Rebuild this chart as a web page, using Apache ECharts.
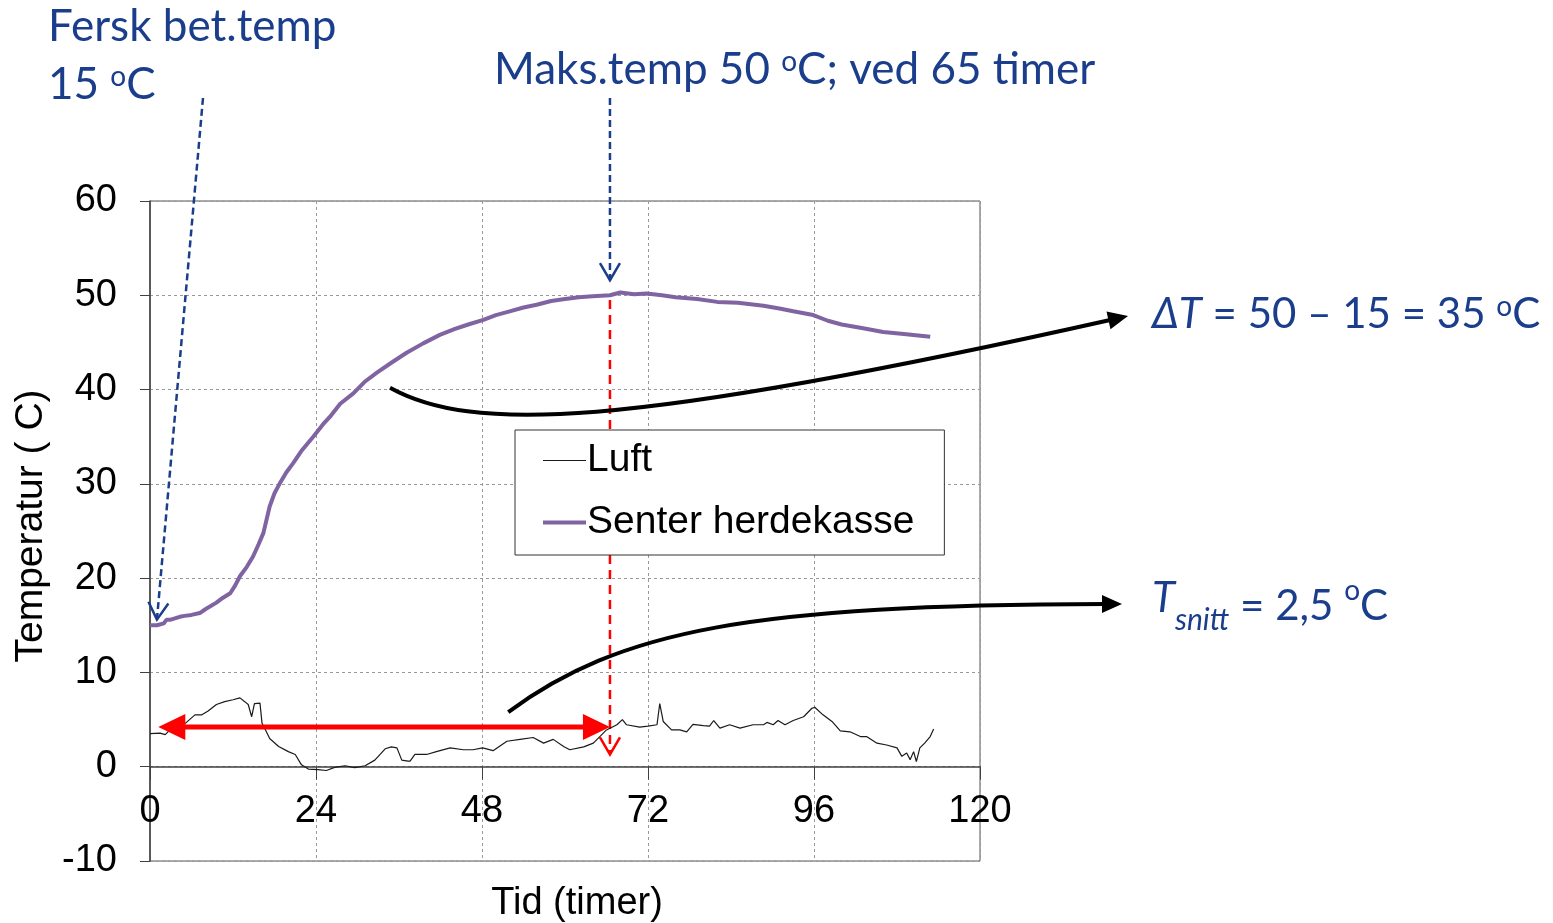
<!DOCTYPE html>
<html><head><meta charset="utf-8">
<script src="https://cdn.jsdelivr.net/npm/echarts@6/dist/echarts.min.js"></script>
<style>html,body{margin:0;padding:0;background:#fff}#chart{width:1553px;height:923px}</style>
</head><body><div id="chart"></div>
<script>
// ---- data ----
const seriesNames = ['Luft', 'Senter herdekasse'];
const xTickValues = [0, 24, 48, 72, 96, 120];
const yTickValues = [-10, 0, 10, 20, 30, 40, 50, 60];

const luftTime = [0, 0.24, 1.45, 2.2, 2.9, 3.9, 5.1, 6.5, 7.5, 8.4, 9.6, 10.8, 12.0, 13.0, 13.7, 14.2, 14.7, 15.1, 15.9, 16.2, 16.9, 17.3, 18.6, 20.0, 21.0, 21.9, 22.9, 24.3, 25.5, 26.7, 28.2, 29.6, 31.1, 32.5, 34.0, 34.9, 35.7, 36.4, 37.3, 37.6, 38.3, 40.0, 41.4, 43.4, 45.3, 46.7, 48.1, 49.6, 51.6, 53.5, 55.4, 56.9, 58.3, 59.8, 60.7, 62.7, 64.1, 66.0, 67.5, 68.3, 68.9, 70.8, 72.0, 73.3, 73.7, 74.2, 75.4, 76.6, 77.6, 78.5, 80.0, 80.9, 81.5, 82.4, 83.8, 85.3, 87.2, 88.7, 89.2, 90.1, 90.8, 91.8, 93.0, 94.5, 95.7, 96.1, 97.3, 98.6, 99.8, 101.2, 102.7, 103.6, 105.1, 106.5, 108.0, 108.7, 109.4, 109.9, 110.4, 110.8, 111.3, 112.0, 112.8, 113.3];
const luftTemp = [3.5, 3.57, 3.57, 3.4, 3.9, 4.0, 4.6, 5.5, 5.5, 5.9, 6.6, 6.9, 7.1, 7.3, 6.9, 6.6, 5.3, 6.7, 6.75, 4.6, 3.6, 3.0, 2.15, 1.6, 1.3, 0.2, -0.25, -0.3, -0.4, -0.07, 0.1, -0.1, 0.1, 0.7, 1.9, 2.1, 2.0, 0.7, 0.6, 0.6, 1.3, 1.3, 1.6, 2.0, 1.8, 1.8, 2.0, 1.7, 2.7, 2.9, 3.1, 2.5, 2.9, 2.15, 1.8, 2.1, 2.5, 3.9, 4.45, 5.0, 4.45, 4.2, 4.3, 4.45, 6.7, 4.8, 3.9, 3.9, 3.7, 4.5, 4.35, 4.3, 4.9, 4.1, 4.45, 4.1, 4.45, 4.45, 4.7, 4.45, 4.9, 4.45, 4.9, 5.3, 6.2, 6.3, 5.5, 4.8, 3.8, 3.7, 3.2, 3.2, 2.5, 2.3, 2.0, 1.1, 1.45, 0.75, 1.6, 0.55, 2.0, 2.5, 3.2, 4.0];

const senterTime = [0, 1, 2, 2.4, 3, 4.3, 5, 6, 7.2, 8, 9.6, 10.5, 11.6, 12.3, 13, 14, 14.9, 15.7, 16.4, 17.3, 18, 18.8, 19.7, 20.7, 22, 23.6, 25, 26, 27.5, 29.4, 31, 32.8, 35, 37.1, 39.5, 41.9, 44, 46, 48.2, 50, 52, 54, 55.9, 58, 60, 62, 64, 66.5, 68, 70, 71.8, 74, 76, 79.1, 82, 85, 88.7, 91, 93, 95.9, 98, 100, 103.1, 106, 109, 112.8];
const senterTemp = [15.0, 15.0, 15.2, 15.6, 15.6, 15.9, 16.0, 16.1, 16.3, 16.7, 17.4, 17.9, 18.4, 19.2, 20.2, 21.2, 22.3, 23.6, 24.8, 27.6, 29.0, 30.1, 31.2, 32.2, 33.6, 35.0, 36.3, 37.1, 38.5, 39.6, 40.8, 41.8, 42.9, 43.9, 44.9, 45.8, 46.4, 46.9, 47.4, 47.9, 48.3, 48.7, 49.0, 49.4, 49.6, 49.8, 49.9, 50.0, 50.3, 50.1, 50.2, 50.0, 49.8, 49.6, 49.3, 49.2, 48.9, 48.6, 48.3, 47.9, 47.3, 46.9, 46.5, 46.1, 45.9, 45.6];

// annotation anchors (data units)
const peakTime = 66.5;
const redArrowY = 4.2;
const redArrowStart = 1.2;

const luftData = luftTime.map((t, i) => [t, luftTemp[i]]);
const senterData = senterTime.map((t, i) => [t, senterTemp[i]]);

const AXFONT = "'Liberation Sans', Arial, sans-serif";
const BLUE = '#1a3e8c';
const TFONT = "Lato, 'Open Sans', sans-serif";
const TSIZE = 44;
const TSIZE2 = 42;

const GRID_H = 660;
const yMin = yTickValues[0], yMax = yTickValues[yTickValues.length - 1];
// lift the x axis so that it crosses the y axis at 0
const xAxisOffset = -GRID_H * (0 - yMin) / (yMax - yMin);

const chart = echarts.init(document.getElementById('chart'));
const option = {
  animation: false,
  backgroundColor: '#fff',
  grid: { left: 150, top: 201, width: 830, height: GRID_H, containLabel: false, outerBoundsMode: 'none',
    show: true, borderColor: '#555', borderWidth: 1, backgroundColor: 'transparent' },
  xAxis: {
    type: 'value', min: xTickValues[0], max: xTickValues[xTickValues.length - 1], interval: 24,
    position: 'bottom', offset: xAxisOffset,
    axisLine: { onZero: false, lineStyle: { color: '#404040', width: 1.5 } },
    axisTick: { show: true, length: 13, lineStyle: { color: '#404040' } },
    axisLabel: { margin: 26, color: '#000', fontSize: 38, fontFamily: AXFONT },
    splitLine: { show: true, lineStyle: { color: '#999', type: [3, 3], width: 1 } },
    name: 'Tid (timer)', nameLocation: 'middle', nameGap: 118,
    nameTextStyle: { color: '#000', fontSize: 38, fontFamily: AXFONT, padding: [0, 0, 0, 24] }
  },
  yAxis: {
    type: 'value', min: yMin, max: yMax, interval: 10,
    axisLine: { show: true, onZero: false, lineStyle: { color: '#404040', width: 1.5 } },
    axisTick: { show: true, length: 10, lineStyle: { color: '#404040' } },
    axisLabel: { margin: 33, color: '#000', fontSize: 38, fontFamily: AXFONT },
    splitLine: { show: true, lineStyle: { color: '#999', type: [3, 3], width: 1 } },
    name: 'Temperatur ( C)', nameLocation: 'middle', nameGap: 98, nameRotate: 90,
    nameTextStyle: { color: '#000', fontSize: 39, fontFamily: AXFONT, padding: [0, 0, 0, 10] }
  },
  legend: {
    orient: 'vertical', left: 515, top: 430,
    padding: [11, 30, 13, 28], itemGap: 23, itemWidth: 43, itemHeight: 14,
    backgroundColor: '#fff', borderColor: '#333', borderWidth: 1,
    textStyle: { color: '#000', fontSize: 39, fontFamily: AXFONT, padding: [0, 0, 0, -4] },
    data: [
      { name: seriesNames[0], icon: 'path://M0,0 M43,14 M0,6.4 L43,6.4 L43,7.6 L0,7.6 Z' },
      { name: seriesNames[1], icon: 'path://M0,0 M43,14 M0,5 L43,5 L43,9 L0,9 Z' }
    ]
  },
  series: [
    { name: seriesNames[0], type: 'line', data: luftData, showSymbol: false, symbol: 'none',
      lineStyle: { color: '#1a1a1a', width: 1.2 }, itemStyle: { color: '#1a1a1a' }, z: 3 },
    { name: seriesNames[1], type: 'line', data: senterData, showSymbol: false, symbol: 'none',
      lineStyle: { color: '#8064A2', width: 4 }, itemStyle: { color: '#8064A2' }, z: 3 }
  ]
};
chart.setOption(option);

const P = (x, y) => chart.convertToPixel({ gridIndex: 0 }, [x, y]);
function headPts(tip, from, len, hw) {
  const dx = tip[0] - from[0], dy = tip[1] - from[1];
  const L = Math.hypot(dx, dy); const ux = dx / L, uy = dy / L;
  const bx = tip[0] - ux * len, by = tip[1] - uy * len;
  return [[bx - uy * hw, by + ux * hw], tip, [bx + uy * hw, by - ux * hw]];
}
function back(tip, from, len) {
  const dx = tip[0] - from[0], dy = tip[1] - from[1];
  const L = Math.hypot(dx, dy);
  return [tip[0] - dx / L * len, tip[1] - dy / L * len];
}
const g = [];
// red dashed vertical with open head
const rvTop = P(peakTime, 49.5), rvTip = P(peakTime, 1.3);
g.push({ type: 'line', z: 3, shape: { x1: rvTop[0], y1: rvTop[1], x2: rvTip[0], y2: rvTip[1] - 1 },
  style: { stroke: '#ff0000', lineWidth: 2.5, lineDash: [9, 6] } });
g.push({ type: 'polyline', z: 3, shape: { points: headPts(rvTip, rvTop, 17, 10) },
  style: { stroke: '#ff0000', lineWidth: 2.5, fill: null } });
// red double arrow
const raL = P(redArrowStart, redArrowY), raR = P(peakTime, redArrowY);
const raLb = back(raL, raR, 26), raRb = back(raR, raL, 26);
g.push({ type: 'line', z: 6, shape: { x1: raLb[0], y1: raLb[1], x2: raRb[0], y2: raRb[1] },
  style: { stroke: '#ff0000', lineWidth: 5 } });
g.push({ type: 'polygon', z: 6, shape: { points: headPts(raL, raR, 27, 13) }, style: { fill: '#ff0000' } });
g.push({ type: 'polygon', z: 6, shape: { points: headPts(raR, raL, 27, 13) }, style: { fill: '#ff0000' } });
// blue dashed arrows
const b1s = [203, 98], b1t = P(1.0, 15.6);
g.push({ type: 'line', z: 10, shape: { x1: b1s[0], y1: b1s[1], x2: b1t[0], y2: b1t[1] },
  style: { stroke: BLUE, lineWidth: 2.5, lineDash: [7, 4] } });
g.push({ type: 'polyline', z: 10, shape: { points: headPts(b1t, b1s, 17, 10) }, style: { stroke: BLUE, lineWidth: 2.5, fill: null } });
const b2t = P(peakTime, 51.6); const b2s = [b2t[0], 98];
g.push({ type: 'line', z: 10, shape: { x1: b2s[0], y1: b2s[1], x2: b2t[0], y2: b2t[1] },
  style: { stroke: BLUE, lineWidth: 2.5, lineDash: [7, 4] } });
g.push({ type: 'polyline', z: 10, shape: { points: headPts(b2t, b2s, 17, 10) }, style: { stroke: BLUE, lineWidth: 2.5, fill: null } });
// black curved arrows
function curveArrow(p0, p1, p2, tip) {
  const end = back(tip, p2, 16);
  g.push({ type: 'bezierCurve', z: 10, shape: { x1: p0[0], y1: p0[1], cpx1: p1[0], cpy1: p1[1], cpx2: p2[0], cpy2: p2[1], x2: end[0], y2: end[1] },
    style: { stroke: '#000', lineWidth: 4, fill: null } });
  g.push({ type: 'polygon', z: 10, shape: { points: headPts(tip, p2, 20, 9) }, style: { fill: '#000' } });
}
curveArrow(P(34.7, 40.2), [470, 432], [620, 430], [1128, 316]);
curveArrow(P(51.8, 5.8), [620, 630], [750, 605], [1122, 604]);
// texts
function txt(x, y, text, size, rich) {
  g.push({ type: 'text', z: 12, x: x, y: y, style: { text: text, fill: BLUE, fontSize: size, fontFamily: TFONT,
    verticalAlign: 'middle', align: 'left', rich: rich || {} } });
}
const supStyle = (s) => ({ fontSize: 28, fill: BLUE, fontFamily: TFONT, verticalAlign: 'top', lineHeight: s });
txt(48, 27, 'Fersk bet.temp', TSIZE);
txt(48, 85, '15 {sup|o}C', TSIZE, { sup: supStyle(TSIZE) });
txt(494, 70, 'Maks.temp 50 {sup|o}C; ved 65 timer', TSIZE, { sup: supStyle(TSIZE) });
txt(1152, 314, '{it|ΔT} = 50 – 15 = 35 {sup|o}C', TSIZE2, { it: { fontSize: TSIZE2, fill: BLUE, fontFamily: TFONT, fontStyle: 'italic' }, sup: supStyle(TSIZE2) });
txt(1152, 606, '{it|T}{sub|snitt} = 2,5 {sup|o}C', TSIZE2, {
  it: { fontSize: TSIZE2, fill: BLUE, fontFamily: TFONT, fontStyle: 'italic', lineHeight: 58, verticalAlign: 'top' },
  sub: { fontSize: 30, fill: BLUE, fontFamily: TFONT, fontStyle: 'italic', verticalAlign: 'bottom', lineHeight: 58 },
  sup: supStyle(TSIZE2) });
chart.setOption({ graphic: g });
</script></body></html>
